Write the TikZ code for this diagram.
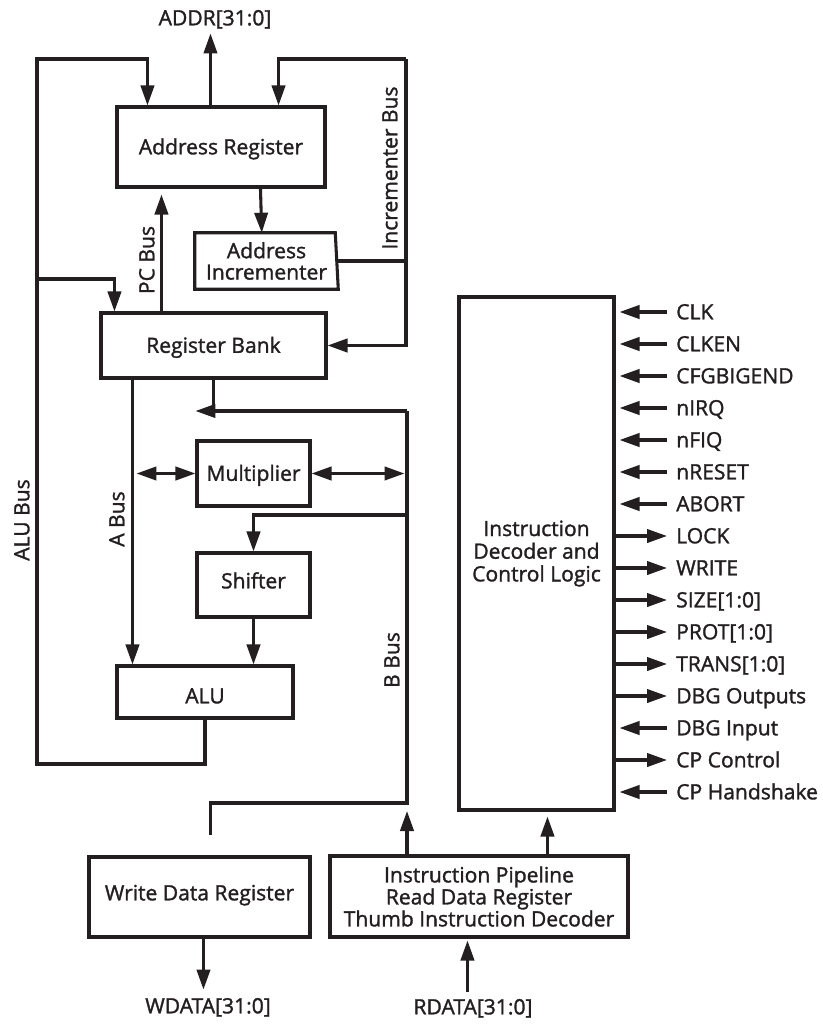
\documentclass[tikz,border=0pt]{standalone}
\usepackage{fontspec}
\setmainfont{Open Sans}[RawFeature={embolden=1.4}]
\usetikzlibrary{arrows.meta,calc}
\definecolor{ink}{RGB}{35,31,32}
\begin{document}
\begin{tikzpicture}[x=0.75pt,y=-0.75pt,
  every node/.style={font=\fontsize{15.8}{17}\selectfont, text=ink, inner sep=0pt},
  line/.style={draw=ink, line width=2.3pt},
  arr/.style={line, -{Triangle[length=15pt,width=10pt]}},
  darr/.style={line, {Triangle[length=15pt,width=10pt]}-{Triangle[length=15pt,width=10pt]}},
  box/.style={draw=ink, line width=2.3pt, align=center},
  sz/.style 2 args={minimum width=#1*0.75pt, minimum height=#2*0.75pt},
  one/.style={text height=11pt, text depth=0pt},
  up/.style={text height=11pt, text depth=6pt},
  down/.style={text height=17pt, text depth=0pt},
  sig/.style={one, anchor=west, inner xsep=6.75pt},
]
\fill[white] (0,0) rectangle (822,1024);
\useasboundingbox (0,0) rectangle (822,1024);

% blocks
\node[box, one, sz={208}{80}] (ar) at (221,147) {Address Register};
\node[align=center, sz={143}{56}, font=\fontsize{15.8}{16}\selectfont] (ai) at (266.5,261) {Address\\Incrementer};
\draw[line] (ai.north west) -- ($(ai.north east)+(-3,0)$) -- (ai.south east) -- (ai.south west) -- cycle;
\node[box, one, sz={225}{65}] (rb) at (213.5,345.5) {Register Bank};
\node[box, one, sz={113}{65}] (mul) at (253.5,473.5) {Multiplier};
\node[box, up, sz={113}{64}] (sh) at (253.5,585) {Shifter};
\node[box, down, sz={176}{52}] (alu) at (205,692) {ALU};
\node[box, up, sz={221}{80}] (wdr) at (199.5,897) {Write Data Register};
\node[box, sz={298}{81}, font=\fontsize{15.8}{16.5}\selectfont] (ip) at (479,896.5) {Instruction Pipeline\\Read Data Register\\Thumb Instruction Decoder};
\node[box, sz={155}{513}, font=\fontsize{15.8}{17}\selectfont] (cl) at (536.5,553.5) {Instruction\\Decoder and\\Control Logic};

% external labels
\node[one] (addr) at (215,18) {ADDR[31:0]};
\node[one] (wdata) at (208,1006) {WDATA[31:0]};
\node[one] (rdata) at (473,1007) {RDATA[31:0]};

% bus labels
\node[one, rotate=90] (incbus) at (390,168) {Incrementer Bus};
\node[one, rotate=90] (pcbus) at (147,260) {PC Bus};
\node[one, rotate=90] (alubus) at (22,520) {ALU Bus};
\node[one, rotate=90] (abus) at (117,519) {A Bus};
\node[one, rotate=90] (bbus) at (392,660) {B Bus};

% bus coordinates
\coordinate (aluTop) at (37,59);
\coordinate (aluMid) at (37,279);
\coordinate (aluBot) at (37,764);
\coordinate (incTop) at (406,59);
\coordinate (bTop) at (407,411);
\coordinate (bSh) at (407,515);
\coordinate (bBot) at (407,803);

% ALU bus
\draw[arr] (alu.south) |- (aluBot) -- (aluTop) -| ($(ar.north west)+(32,0)$);
\draw[arr] (aluMid) -| ($(rb.north west)+(15,0)$);

% address path
\draw[arr] ($(ar.north west)+(95,0)$) -- ++(0,-72);
\draw[arr] ($(ar.south west)+(145,0)$) -- ($(ai.north west)+(67,0)$);
\draw[arr] ($(rb.north west)+(62,0)$) -- ($(ar.south west)+(46,6)$);

% incrementer bus
\draw[arr] (incTop) -| ($(ar.north east)+(-48,0)$);
\draw[arr] (incTop) -- (incTop |- rb.east) -- (rb.east);
\draw[line] (ai.east) -- (ai.east -| incTop);

% A bus
\draw[arr] ($(rb.south west)+(33,0)$) -- ($(alu.north west)+(17,0)$);

% B bus
\draw[line] (rb.south) -- (rb.south |- bTop);
\draw[arr] (bTop) -- (bTop -| mul.west);
\draw[line] (bTop) -- (bBot) -| ($(wdr.north west)+(123,-20)$);
\draw[darr] (mul.west) -- ++(-59,0);
\draw[darr] (mul.east) -- ++(93,0);
\draw[arr] (bSh) -| (sh.north);
\draw[arr] (sh.south) -- (sh.south |- alu.north);

% bottom
\draw[arr] ($(wdr.south west)+(116,0)$) -- ++(0,51);
\draw[arr] (ip.north -| bBot) -- ($(bBot)+(0,8)$);
\draw[arr] ($(ip.north west)+(219,0)$) -- ($(cl.south west)+(90,5)$);
\draw[arr] ($(ip.south west)+(139,53)$) -- ($(ip.south west)+(139,2)$);

% control signals
\foreach \i/\s in {0/CLK,1/CLKEN,2/CFGBIGEND,3/nIRQ,4/nFIQ,5/nRESET,6/ABORT,13/DBG Input,15/CP Handshake}{
  \node[sig] (s\i) at (667,{312+32*\i}) {\s};
  \draw[arr, shorten >=3pt] (s\i.west) -- (s\i.west -| cl.east);
}
\foreach \i/\s in {7/LOCK,8/WRITE,9/{SIZE[1:0]},10/{PROT[1:0]},11/{TRANS[1:0]},12/DBG Outputs,14/CP Control}{
  \node[sig] (s\i) at (667,{312+32*\i}) {\s};
  \draw[arr] (s\i.west -| cl.east) -- (s\i.west);
}
\end{tikzpicture}
\end{document}
